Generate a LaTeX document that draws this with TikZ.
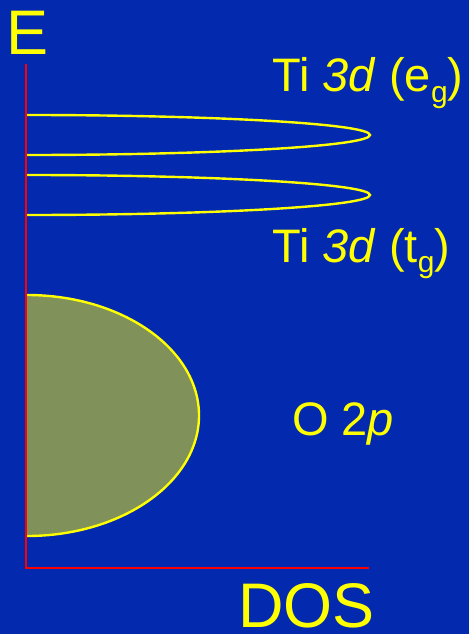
\documentclass[tikz,border=0pt]{standalone}
\usepackage{fontspec}
\setmainfont{Liberation Sans}
\definecolor{bgblue}{RGB}{3,41,175}
\definecolor{ylw}{RGB}{255,255,0}
\definecolor{olive}{RGB}{128,145,90}
\newcommand{\subg}[1]{\raisebox{-10pt}{\fontsize{30}{30}\selectfont #1}}
\begin{document}
\begin{tikzpicture}[x=1pt,y=-1pt,
  lbl/.style={text=ylw,inner sep=0pt,anchor=base west},
  big/.style={lbl,font=\fontsize{63}{63}\selectfont},
  mid/.style={lbl,font=\fontsize{47}{47}\selectfont},
  axis/.style={draw=red,line width=2pt},
  band/.style={draw=ylw,line width=2.4pt}]
\fill[bgblue] (0,0) rectangle (469,634);
\useasboundingbox (0,0) rectangle (469,634);
% lower O 2p band
\fill[olive] (27,295) arc[start angle=-90,end angle=90,x radius=172,y radius=120.5] -- cycle;
\draw[band] (27,295) arc[start angle=-90,end angle=90,x radius=172,y radius=120.5];
% Ti 3d bands
\draw[band] (27,115) arc[start angle=-90,end angle=90,x radius=343,y radius=20];
\draw[band] (27,175) arc[start angle=-90,end angle=90,x radius=343,y radius=20];
% axes
\coordinate (top) at (26,64);
\coordinate (origin) at (26,568);
\coordinate (right) at (369,568);
\draw[axis] (top) -- (origin) -- (right);
% labels
\node[big] (E) at (6,55) {E};
\node[big] (DOS) at (238,627) {DOS};
\node[mid] (eg) at (272,92) {Ti \textit{3d} (e\subg{g})};
\node[mid] (tg) at (272,262) {Ti \textit{3d} (t\subg{g})};
\node[mid] (O2p) at (292,435) {O 2\textit{p}};
\end{tikzpicture}
\end{document}
